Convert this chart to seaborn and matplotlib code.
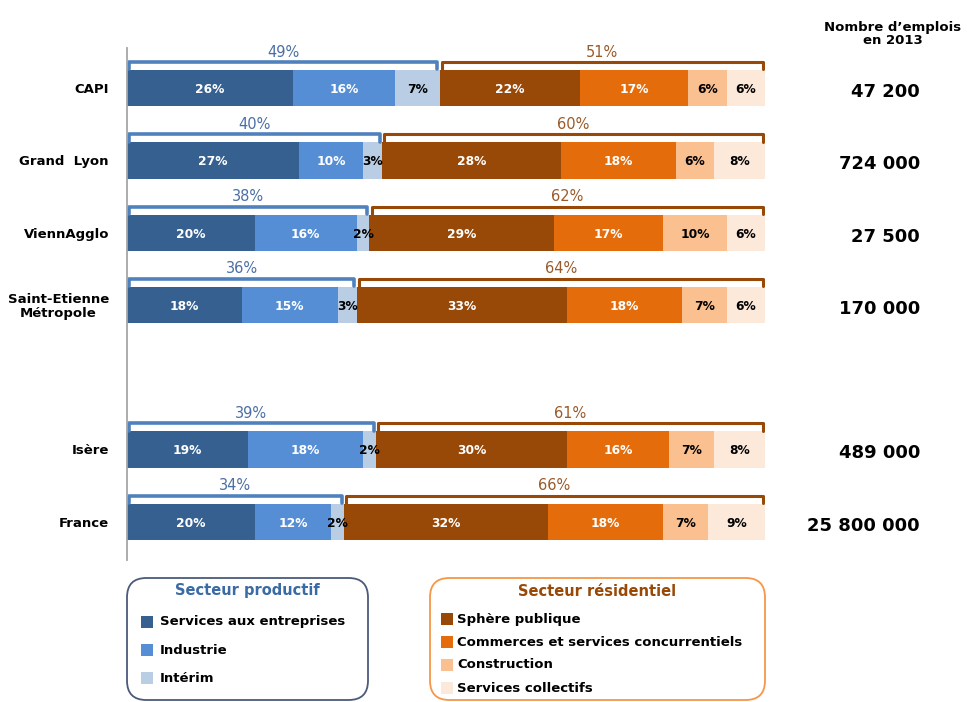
import seaborn as sns
import matplotlib.pyplot as plt
import pandas as pd
import numpy as np
from matplotlib.patches import FancyBboxPatch, Rectangle

# Data (% of jobs by sector, 2013)
territories = ["CAPI", "Grand  Lyon", "ViennAgglo", "Saint-Etienne\nMétropole", " ", "Isère", "France"]
services_entreprises = [26, 27, 20, 18, None, 19, 20]
industrie = [16, 10, 16, 15, None, 18, 12]
interim = [7, 3, 2, 3, None, 2, 2]
sphere_publique = [22, 28, 29, 33, None, 30, 32]
commerces = [17, 18, 17, 18, None, 16, 18]
construction = [6, 6, 10, 7, None, 7, 7]
services_collectifs = [6, 8, 6, 6, None, 8, 9]
productif_total = [49, 40, 38, 36, None, 39, 34]
residentiel_total = [51, 60, 62, 64, None, 61, 66]
emplois = ["47 200", "724 000", "27 500", "170 000", "", "489 000", "25 800 000"]

series_names = ["Services aux entreprises", "Industrie", "Intérim",
                "Sphère publique", "Commerces et services concurrentiels",
                "Construction", "Services collectifs"]
series_values = [services_entreprises, industrie, interim, sphere_publique,
                 commerces, construction, services_collectifs]
colors = ["#35608F", "#558ED5", "#B9CDE5", "#984807", "#E46C0A", "#FAC090", "#FDE9D9"]
text_colors = ["white", "white", "black", "white", "white", "black", "black"]

sns.set_theme(style="white")
plt.rcParams["font.family"] = ["DejaVu Sans"]
plt.rcParams["text.color"] = "black"
plt.rcParams["ytick.color"] = "black"

fig = plt.figure(figsize=(9.67, 7.02), dpi=100)
ax = fig.add_axes([127 / 967, (702 - 560) / 702, 638 / 967, 520 / 702])

# long table of cumulative ends so stacked layers can be drawn right-to-left
rows = []
for i, t in enumerate(territories):
    if series_values[0][i] is None:
        continue
    cum = 0
    for name, vals in zip(series_names, series_values):
        cum += vals[i]
        rows.append({"territory": t, "series": name, "end": cum, "value": vals[i]})
df = pd.DataFrame(rows)

bar_h = 0.50
for name, col in reversed(list(zip(series_names, colors))):
    sub = df[df["series"] == name]
    sns.barplot(data=sub, x="end", y="territory", order=territories, color=col,
                width=bar_h, orient="h", ax=ax, errorbar=None, saturation=1,
                linewidth=0)

# segment labels
for i, t in enumerate(territories):
    if series_values[0][i] is None:
        continue
    left = 0
    for vals, tc in zip(series_values, text_colors):
        v = vals[i]
        ax.text(left + v / 2, i + 0.02, f"{v}%", ha="center", va="center",
                color=tc, fontsize=8.8, fontweight="bold")
        left += v

    # brackets above the bars
    p = productif_total[i]
    y_top = i - 0.36
    y_end = i - bar_h / 2 - 0.01
    ax.plot([0.25, 0.25, p - 0.35, p - 0.35], [y_end, y_top, y_top, y_end],
            color="#4F81BD", lw=2.6, solid_joinstyle="round", solid_capstyle="round")
    ax.plot([p + 0.35, p + 0.35, 99.7, 99.7], [y_end, y_top, y_top, y_end],
            color="#984807", lw=2.2, solid_joinstyle="round", solid_capstyle="round")
    ax.text(p / 2, i - 0.5, f"{p}%", ha="center", va="center",
            color="#4A6FA5", fontsize=10.5)
    ax.text(p + residentiel_total[i] / 2, i - 0.5, f"{residentiel_total[i]}%",
            ha="center", va="center", color="#9A5A2A", fontsize=10.5)

    # job counts on the right
    fig.text(920 / 967, 1 - (92 + i * 72.3) / 702, emplois[i],
             ha="right", va="center", fontsize=13, fontweight="bold")

ax.set_xlim(0, 100)
ax.set_ylim(6.53, -0.667)
ax.set_xlabel("")
ax.set_ylabel("")
ax.set_xticks([])
ax.tick_params(axis="y", length=0, pad=13)
ax.set_yticks(range(len(territories)))
ax.set_yticklabels(territories, fontsize=9.5, fontweight="bold",
                   multialignment="center", linespacing=1.1)
for s in ["top", "right", "bottom"]:
    ax.spines[s].set_visible(False)
ax.spines["left"].set_color("#A6A6A6")
ax.spines["left"].set_linewidth(1.3)
ax.spines["left"].set_bounds(6.53, -0.55)

fig.text(893 / 967, 1 - 34 / 702, "Nombre d\u2019emplois\nen 2013", ha="center",
         va="center", fontsize=9.5, fontweight="bold", linespacing=1.05)

# legend boxes
def px(x, y):
    return x / 967, 1 - y / 702

def legend_box(x0, x1, y0, y1, edge, title, title_color, items, ys, sq_x, tx_x):
    fx0, fy1 = px(x0, y1)
    fx1, fy0 = px(x1, y0)
    box = FancyBboxPatch((fx0, fy1), fx1 - fx0, fy0 - fy1,
                         boxstyle="round,pad=0,rounding_size=0.02",
                         transform=fig.transFigure, facecolor="white",
                         edgecolor=edge, linewidth=1.3, mutation_aspect=967 / 702)
    fig.patches.append(box)
    tx, ty = px((x0 + x1) / 2, y0 + 13)
    fig.text(tx, ty, title, ha="center", va="center", fontsize=10.5,
             fontweight="bold", color=title_color)
    for (name, col), y in zip(items, ys):
        sx, sy = px(sq_x, y + 6)
        fig.patches.append(Rectangle((sx, sy), 12 / 967, 12 / 702,
                                     transform=fig.transFigure, facecolor=col,
                                     edgecolor="none"))
        lx, ly = px(tx_x, y)
        fig.text(lx, ly, name, ha="left", va="center", fontsize=9.5,
                 fontweight="bold")

legend_box(127, 368, 578, 700, "#4A5A7A", "Secteur productif", "#3A6BA5",
           list(zip(series_names[:3], colors[:3])), [622, 650, 678], 141, 160)
legend_box(430, 765, 578, 700, "#F79646", "Secteur résidentiel", "#984807",
           list(zip(series_names[3:], colors[3:])), [619, 642, 665, 688], 441, 457)

fig.savefig("out.png", dpi=100)
